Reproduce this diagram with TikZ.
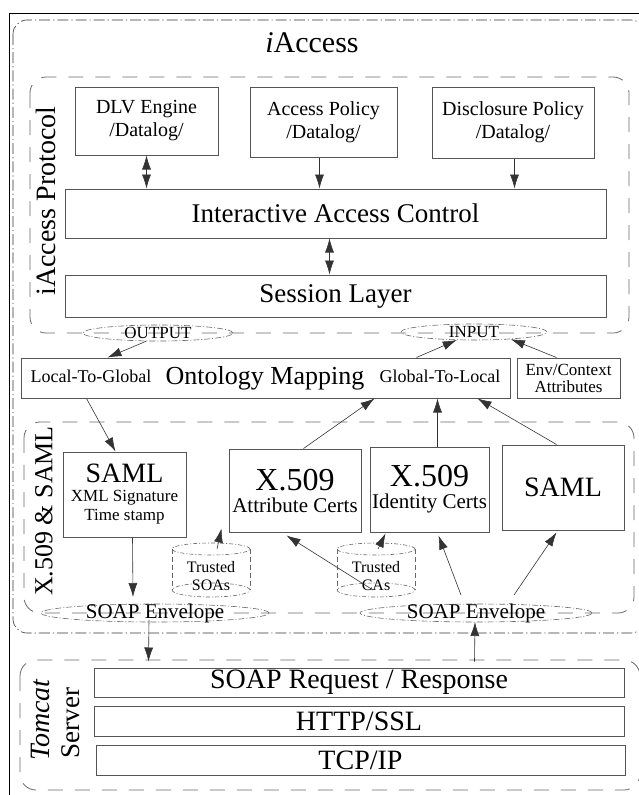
\documentclass[tikz,border=0pt]{standalone}
\usepackage{fontspec}
\setmainfont{Liberation Serif}
\usetikzlibrary{arrows.meta,calc,shapes.geometric}
\definecolor{boxline}{HTML}{555555}
\definecolor{frameline}{HTML}{686868}
\definecolor{wireline}{HTML}{333333}
\newcommand{\fsz}[1]{\fontsize{#1}{#1}\selectfont}

\begin{document}
\begin{tikzpicture}[x=1pt,y=-1pt,
  box/.style={draw=boxline,line width=1pt,inner sep=0pt,align=center},
  plainframe/.style={draw=black,line width=0.8pt},
  dotframe/.style={draw=black!80,line width=0.6pt,dash pattern=on 11pt off 3pt on 1.2pt off 3pt,rounded corners=14pt},
  dashframe/.style={draw=frameline,line width=0.8pt,dash pattern=on 15pt off 12pt,rounded corners=16pt},
  msg/.style={draw=frameline,line width=0.6pt,dash pattern=on 6pt off 2pt on 1pt off 2pt,ellipse,inner sep=0pt},
  cylside/.style={draw=frameline,line width=0.6pt,dash pattern=on 5pt off 3pt},
  cylcap/.style={draw=frameline,line width=0.6pt,dash pattern=on 4pt off 2pt on 1pt off 2pt},
  wire/.style={draw=wireline,line width=0.6pt,-{Latex[length=14pt,width=9pt]}},
  wire2/.style={draw=wireline,line width=0.6pt,{Latex[length=14pt,width=9pt]}-{Latex[length=14pt,width=9pt]}},
  lbl/.style={inner sep=0pt}
]
\useasboundingbox (0,0) rectangle (639,795);
\clip (0,0) rectangle (639,795);

% enclosing frames
\draw[plainframe] (9,13) rectangle (670,830);
\draw[dotframe] (13,20) rectangle (645,633);
\draw[dashframe] (30,77) rectangle (629,333);
\draw[dashframe] (24,422) rectangle (634,613);
\draw[dashframe] (20,660) rectangle (640,790);

% titles
\node[lbl,font=\fsz{30}] (title) at (312,43) {\textit{i}Access};
\node[lbl,rotate=90,font=\fsz{28}] (protolbl) at (46,201) {iAccess Protocol};
\node[lbl,rotate=90,font=\fsz{26}] (x509lbl) at (44,511) {X.509 \& SAML};
\node[lbl,rotate=90,font=\fsz{28}\itshape] (tomcat) at (40,720) {Tomcat};
\node[lbl,rotate=90,font=\fsz{27}] (server) at (71,723) {Server};

% iAccess protocol layer
\node[box,minimum width=143pt,minimum height=68pt,font=\fontsize{20}{23}\selectfont] (dlv) at (146.5,121) {DLV Engine\\/Datalog/};
\node[box,minimum width=147pt,minimum height=70pt,font=\fontsize{20}{23}\selectfont] (ap) at (323.5,122) {Access Policy\\/Datalog/};
\node[box,minimum width=162pt,minimum height=71pt,font=\fontsize{20}{23}\selectfont] (dp) at (513,122.5) {Disclosure Policy\\/Datalog/};
\node[box,minimum width=541pt,minimum height=49pt,font=\fsz{27}] (iac) at (335.5,213.5) {Interactive Access Control};
\node[box,minimum width=541pt,minimum height=42pt,font=\fsz{27}] (sess) at (335.5,296) {Session Layer};

% input / output messages
\node[msg,minimum width=150pt,minimum height=16pt] (out) at (158,333) {};
\node[lbl,font=\fsz{17}] (outtxt) at (out.center) {OUTPUT};
\node[msg,minimum width=146pt,minimum height=16pt] (in) at (474,332) {};
\node[lbl,font=\fsz{17}] (intxt) at (in.center) {INPUT};

% ontology mapping
\node[box,minimum width=489pt,minimum height=40pt] (onto) at (265.5,378) {};
\node[lbl,font=\fsz{18},anchor=base] (l2g) at (91,382) {Local-To-Global};
\node[lbl,font=\fsz{26},anchor=base] (omap) at (265,384) {Ontology Mapping};
\node[lbl,font=\fsz{18},anchor=base] (g2l) at (440,382) {Global-To-Local};
\node[box,minimum width=103pt,minimum height=40pt,font=\fontsize{17}{17}\selectfont] (env) at (568.5,378) {Env/Context\\Attributes};

% credentials layer
\node[box,minimum width=123pt,minimum height=85pt,font=\fontsize{17}{19}\selectfont] (saml1) at (124.5,494.5) {{\fsz{28}SAML}\\XML Signature\\Time stamp};
\node[box,minimum width=132pt,minimum height=83pt,font=\fontsize{21}{22}\selectfont] (attr) at (295,490.5) {{\fsz{32}X.509}\\Attribute Certs};
\node[box,minimum width=119pt,minimum height=85pt,font=\fontsize{21}{22}\selectfont] (ident) at (429.5,489.5) {{\fsz{32}X.509}\\Identity Certs};
\node[box,minimum width=122pt,minimum height=85pt,font=\fsz{28}] (saml2) at (563,487.5) {SAML};

% trust stores
\node[lbl,font=\fontsize{16}{18}\selectfont,align=center] (soas) at (211,576) {Trusted\\SOAs};
\coordinate (soastop) at ($(soas.center)+(0,-27)$);
\coordinate (soasbot) at ($(soas.center)+(0,14)$);
\draw[cylside] ($(soastop)+(-39,0)$) -- ($(soasbot)+(-39,0)$) ($(soastop)+(39,0)$) -- ($(soasbot)+(39,0)$);
\draw[cylcap] (soastop) ellipse [x radius=39pt,y radius=6pt];
\draw[cylcap] (soasbot) ellipse [x radius=39pt,y radius=7pt];

\node[lbl,font=\fontsize{16}{18}\selectfont,align=center] (cas) at (376,576) {Trusted\\CAs};
\coordinate (castop) at ($(cas.center)+(0,-27)$);
\coordinate (casbot) at ($(cas.center)+(0,14)$);
\draw[cylside] ($(castop)+(-39,0)$) -- ($(casbot)+(-39,0)$) ($(castop)+(39,0)$) -- ($(casbot)+(39,0)$);
\draw[cylcap] (castop) ellipse [x radius=39pt,y radius=6pt];
\draw[cylcap] (casbot) ellipse [x radius=39pt,y radius=7pt];

% SOAP envelopes
\node[msg,minimum width=228pt,minimum height=18pt] (env1) at (155,613) {};
\node[lbl,font=\fsz{21}] (env1txt) at (env1.center) {SOAP Envelope};
\node[msg,minimum width=232pt,minimum height=18pt] (env2) at (476,613) {};
\node[lbl,font=\fsz{21}] (env2txt) at (env2.center) {SOAP Envelope};

% server stack
\node[box,minimum width=530pt,minimum height=29pt,font=\fsz{28}] (req) at (359,682.5) {SOAP Request / Response};
\node[box,minimum width=530pt,minimum height=30pt,font=\fsz{28}] (http) at (359,721) {HTTP/SSL};
\node[box,minimum width=529pt,minimum height=30pt,font=\fsz{28}] (tcp) at (360.5,760) {TCP/IP};

% connectors
\draw[wire2] ($(dlv.south west)+(72,0)$) -- ($(iac.north west)+(82,0)$);
\draw[wire] ($(ap.south west)+(70,0)$) -- ($(iac.north west)+(255,0)$);
\draw[wire] ($(dp.south west)+(83,0)$) -- ($(iac.north west)+(450,0)$);
\draw[wire2] ($(iac.south west)+(265,0)$) -- ($(sess.north west)+(265,0)$);
\draw[wire] (out.215) -- ($(onto.north west)+(87,0)$);
\draw[wire] ($(onto.north west)+(396,0)$) -- (in.205);
\draw[wire] ($(env.north west)+(40,0)$) -- (in.349);
\draw[wire] ($(onto.south west)+(66,0)$) -- ($(saml1.north west)+(53,0)$);
\draw[wire] ($(attr.north west)+(75,0)$) -- ($(onto.south west)+(354,0)$);
\draw[wire] ($(ident.north west)+(68,0)$) -- ($(onto.south west)+(417,0)$);
\draw[wire] ($(saml2.north west)+(55,0)$) -- ($(onto.south west)+(457,0)$);
\draw[wire] ($(saml1.south west)+(70,0)$) -- ($(env1.center)+(-22,-16)$);
\draw[wire] ($(soastop)+(6,0)$) -- ($(attr.south west)+(-7,-4)$);
\draw[wire] ($(castop)+(2,0)$) -- ($(ident.south west)+(16,1)$);
\draw[wire] ($(env2.center)+(-103,-23)$) -- ($(attr.south west)+(58,3)$);
\draw[wire] ($(env2.center)+(-15,-18)$) -- ($(ident.south west)+(69,3)$);
\draw[wire] ($(env2.center)+(38,-18)$) -- ($(saml2.south west)+(55,2)$);
\draw[wire] ($(env1.center)+(-6,7)$) -- ($(req.north west)+(55,-6)$);
\draw[wire] ($(req.north west)+(381,-6)$) -- ($(env2.center)+(-1,9)$);
\end{tikzpicture}
\end{document}
